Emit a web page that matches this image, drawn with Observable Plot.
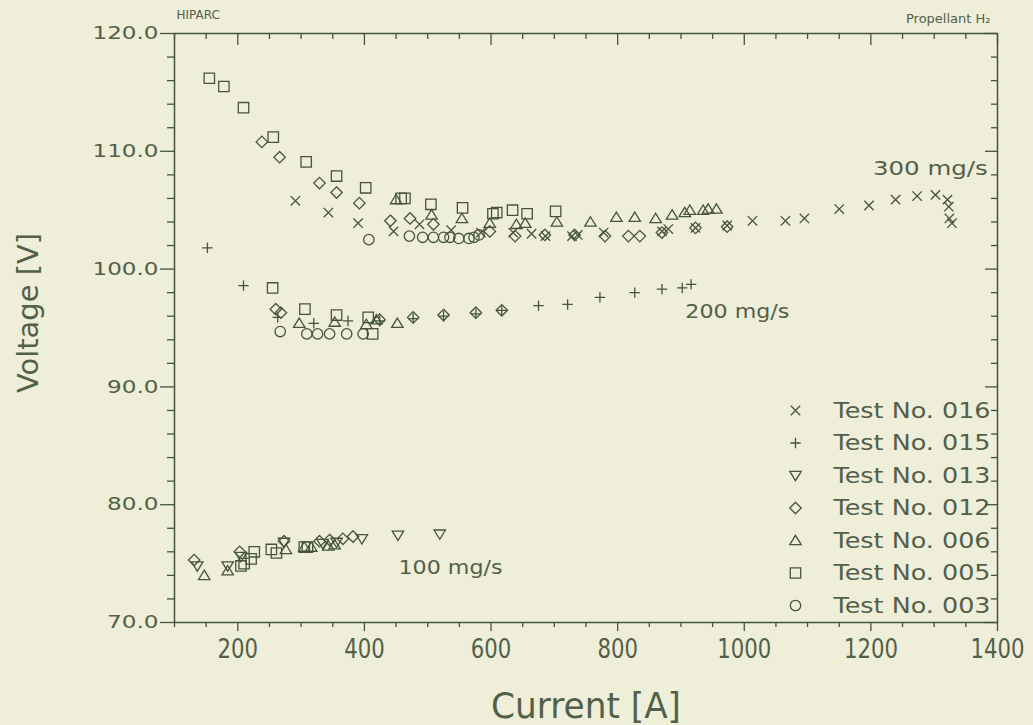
<!DOCTYPE html>
<html>
<head>
<meta charset="utf-8">
<script src="https://cdn.jsdelivr.net/npm/d3@7"></script>
<script src="https://cdn.jsdelivr.net/npm/@observablehq/plot@0.6"></script>
<style>
  html, body { margin: 0; padding: 0; background: #eeeed9; }
  #chart { width: 1033px; height: 725px; }
</style>
</head>
<body>
<div id="chart"></div>
<script>
// HIPARC arc-jet, hydrogen propellant: voltage vs. current for several test runs.
// Each point is [current A, voltage V].
const test016 = [
  [291,105.8],[343,104.8],[390,103.9],[446,103.2],[487,103.8],[537,103.3],[584,103.1],
  [635,103.1],[664,103.0],[686,102.8],[728,102.8],[737,102.9],[778,103.1],[870,103.2],
  [880,103.4],[923,103.5],[973,103.7],[1013,104.1],[1065,104.1],[1095,104.3],[1150,105.1],
  [1197,105.4],[1239,105.9],[1273,106.2],[1302,106.3],[1321,105.9],[1323,105.3],[1324,104.3],[1328,103.9]
];
const test015 = [
  [152,101.8],[209,98.6],[263,95.9],[320,95.4],[374,95.6],[424,95.6],[477,95.8],[525,96.0],
  [576,96.2],[617,96.5],[675,96.9],[721,97.0],[772,97.6],[827,98.0],[870,98.3],[902,98.4],[916,98.7]
];
const test013 = [
  [136,74.8],[184,74.8],[205,75.6],[273,76.8],[334,76.7],[356,76.8],[396,77.1],[453,77.4],[519,77.5]
];
const test012 = [
  [131,75.3],[203,76.0],[273,76.9],[329,76.9],[345,77.0],[366,77.1],[382,77.3],
  [260,96.6],[268,96.3],[424,95.7],[477,95.9],[525,96.1],[576,96.3],[617,96.5],
  [238,110.8],[266,109.5],[329,107.3],[356,106.5],[392,105.6],[441,104.1],[472,104.3],[509,103.8],
  [598,103.2],[638,102.8],[685,102.9],[732,102.9],[780,102.8],[817,102.8],[835,102.8],[870,103.1],[923,103.5],[973,103.6]
];
const test006 = [
  [147,74.0],[184,74.4],[276,76.2],[305,76.4],[316,76.4],[343,76.5],[353,76.6],
  [297,95.4],[353,95.5],[403,95.3],[419,95.7],[452,95.4],
  [450,105.9],[506,104.6],[554,104.3],[598,103.9],[640,103.8],[654,103.9],[704,104.0],[757,104.0],
  [798,104.4],[827,104.4],[860,104.3],[886,104.6],[906,104.8],[914,105.0],[935,105.0],[943,105.1],[956,105.1]
];
const test005 = [
  [205,74.8],[210,75.0],[221,75.4],[226,76.0],[253,76.2],[261,75.9],[305,76.4],[310,76.4],
  [255,98.4],[306,96.6],[356,96.1],[406,95.9],[413,94.5],
  [155,116.2],[178,115.5],[209,113.7],[256,111.2],[308,109.1],[356,107.9],[402,106.9],[458,106.0],
  [464,106.0],[505,105.5],[555,105.2],[603,104.7],[609,104.8],[634,105.0],[657,104.7],[702,104.9]
];
const test003 = [
  [267,94.7],[309,94.5],[326,94.5],[345,94.5],[372,94.5],[398,94.5],
  [407,102.5],[471,102.8],[492,102.7],[509,102.7],[525,102.7],[535,102.7],[549,102.6],
  [565,102.6],[573,102.7],[581,102.9]
];

const testNames = ["016", "015", "013", "012", "006", "005", "003"];
const testSeries = [test016, test015, test013, test012, test006, test005, test003];

// Mass-flow annotations and where they sit (current, voltage).
const flowLabels = ["300 mg/s", "200 mg/s", "100 mg/s"];
const flowLabelAt = [[1294, 108.5], [989, 96.4], [536, 74.6]];

const xMajor = d3.range(200, 1401, 200);
const xMinor = d3.range(100, 1401, 50).filter(v => v % 200 !== 0);
const yMajor = d3.range(70, 121, 10);
const yMinor = d3.range(70, 121, 2).filter(v => v % 10 !== 0);

// Plotter-style open symbols, sized from the dot radius.
const ink = "#46543f";
const textInk = "#526049";
function symbolOf(draw) {
  return { draw(ctx, size) { draw(ctx, Math.sqrt(size / Math.PI)); } };
}
const symbols = {
  "016": symbolOf((c, r) => { const a = r * 0.9; c.moveTo(-a, -a); c.lineTo(a, a); c.moveTo(-a, a); c.lineTo(a, -a); }),
  "015": symbolOf((c, r) => { c.moveTo(-r, 0); c.lineTo(r, 0); c.moveTo(0, -r); c.lineTo(0, r); }),
  "013": symbolOf((c, r) => { c.moveTo(-r * 1.1, -r * 0.8); c.lineTo(r * 1.1, -r * 0.8); c.lineTo(0, r * 1.0); c.closePath(); }),
  "012": symbolOf((c, r) => { const a = r * 1.1; c.moveTo(0, -a); c.lineTo(a, 0); c.lineTo(0, a); c.lineTo(-a, 0); c.closePath(); }),
  "006": symbolOf((c, r) => { c.moveTo(0, -r * 1.0); c.lineTo(r * 1.1, r * 0.8); c.lineTo(-r * 1.1, r * 0.8); c.closePath(); }),
  "005": symbolOf((c, r) => { c.rect(-r, -r, 2 * r, 2 * r); }),
  "003": symbolOf((c, r) => { c.moveTo(r, 0); c.arc(0, 0, r, 0, 2 * Math.PI); })
};

const W = 1033, H = 725;
const mt = 33, mb = 103, ml = 174, mr = 36;
const fw = W - ml - mr, fh = H - mt - mb;

const dotStyle = { r: 5.2, fill: "none", stroke: ink, strokeWidth: 1.3 };

const pointMarks = testNames.map((name, i) =>
  Plot.dot(testSeries[i], { x: d => d[0], y: d => d[1], symbol: symbols[name], ...dotStyle })
);

// Legend rows inside the frame, lower right.
const legendMarks = testNames.flatMap((name, i) => {
  const dy = -17 - (testNames.length - 1 - i) * 32.5;
  return [
    Plot.dot([name], { frameAnchor: "bottom-right", dx: -202, dy, symbol: symbols[name], ...dotStyle }),
    Plot.text([`Test No. ${name}`], { text: d => d, frameAnchor: "bottom-right", dx: -164, dy,
      textAnchor: "start", lineAnchor: "middle", fill: textInk, fontSize: 22, fontFamily: "DejaVu Sans" })
  ];
});

const chart = Plot.plot({
  width: W, height: H,
  marginTop: mt, marginBottom: mb, marginLeft: ml, marginRight: mr,
  x: { domain: [100, 1400] },
  y: { domain: [70, 120] },
  style: { background: "transparent", color: textInk, fontFamily: "DejaVu Sans", overflow: "visible" },
  marks: [
    Plot.frame({ stroke: ink, strokeWidth: 1.5 }),
    // left axis, ticks pointing out
    Plot.axisY({ ticks: yMajor, anchor: "left", tickSize: 14, tickPadding: 2, tickFormat: d3.format(".1f"),
      label: null, stroke: ink, strokeWidth: 1.3, fontSize: 18 }),
    Plot.tickY(yMinor, { y: d => d, insetLeft: -7, insetRight: fw, stroke: ink, strokeWidth: 1.3 }),
    // bottom axis, ticks pointing out
    Plot.axisX({ ticks: xMajor, anchor: "bottom", tickSize: 9, tickPadding: 8, tickFormat: d => String(d),
      label: null, stroke: ink, strokeWidth: 1.3, fontSize: 26 }),
    Plot.tickX(xMinor, { x: d => d, insetTop: fh, insetBottom: -5, stroke: ink, strokeWidth: 1.3 }),
    // top and right edges, ticks pointing in
    Plot.tickX(xMajor, { x: d => d, insetBottom: fh - 12, stroke: ink, strokeWidth: 1.3 }),
    Plot.tickX(xMinor, { x: d => d, insetBottom: fh - 6, stroke: ink, strokeWidth: 1.3 }),
    Plot.tickY(yMajor, { y: d => d, insetLeft: fw - 12, stroke: ink, strokeWidth: 1.3 }),
    Plot.tickY(yMinor, { y: d => d, insetLeft: fw - 6, stroke: ink, strokeWidth: 1.3 }),
    // axis titles
    Plot.text(["Current [A]"], { text: d => d, frameAnchor: "bottom", dy: 84, lineAnchor: "middle",
      textAnchor: "middle", fill: textInk, fontSize: 35, fontFamily: "DejaVu Sans" }),
    Plot.text(["Voltage [V]"], { text: d => d, frameAnchor: "left", dx: -146, dy: -15, rotate: -90,
      textAnchor: "middle", lineAnchor: "middle", fill: textInk, fontSize: 29, fontFamily: "DejaVu Sans" }),
    // header notes
    Plot.text(["HIPARC"], { text: d => d, frameAnchor: "top-left", dx: 2, dy: -18, textAnchor: "start",
      lineAnchor: "middle", fill: textInk, fontSize: 12, fontFamily: "DejaVu Sans" }),
    Plot.text(["Propellant H₂"], { text: d => d, frameAnchor: "top-right", dx: -7, dy: -15, textAnchor: "end",
      lineAnchor: "middle", fill: textInk, fontSize: 13, fontFamily: "DejaVu Sans" }),
    // mass-flow annotations
    Plot.text(flowLabels, { x: (d, i) => flowLabelAt[i][0], y: (d, i) => flowLabelAt[i][1], text: d => d,
      fill: textInk, fontSize: 19, fontFamily: "DejaVu Sans" }),
    ...pointMarks,
    ...legendMarks
  ]
});

document.getElementById("chart").appendChild(chart);

// Stretch or squeeze type to the plotter lettering widths.
const svg = d3.select(chart);
function fitWidth(selection, widthOf) {
  selection.each(function () {
    const t = d3.select(this);
    t.attr("textLength", widthOf(t.text())).attr("lengthAdjust", "spacingAndGlyphs");
  });
}
const textsWhere = test => svg.selectAll("text").filter(function () { return test(d3.select(this).text()); });
fitWidth(svg.selectAll('g[aria-label="y-axis tick label"] text'), s => (s.length - 1) * 14.5 + 8);
fitWidth(svg.selectAll('g[aria-label="x-axis tick label"] text'), s => s.length * 13.5);
fitWidth(textsWhere(s => s === "Current [A]"), () => 190);
fitWidth(textsWhere(s => s === "Voltage [V]"), () => 160);
fitWidth(textsWhere(s => s.startsWith("Test No.")), () => 157);
fitWidth(textsWhere(s => flowLabels.includes(s)), s => s.startsWith("300") ? 115 : 104);
</script>
</body>
</html>
